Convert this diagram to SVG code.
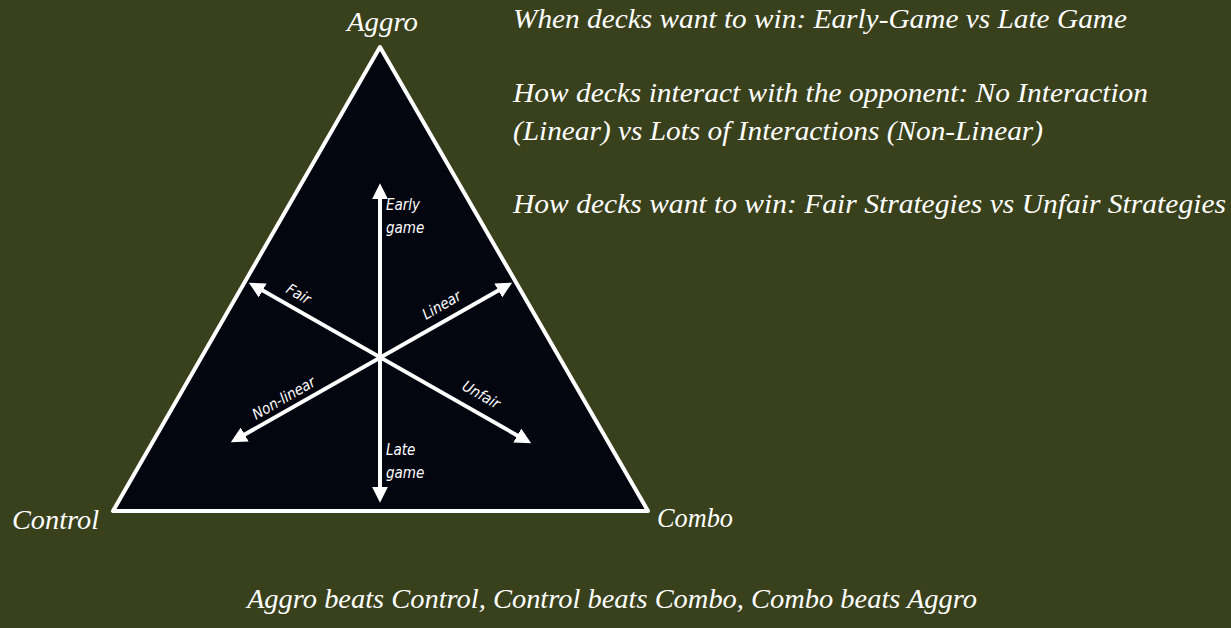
<svg xmlns="http://www.w3.org/2000/svg" width="1231" height="628" viewBox="0 0 1231 628">
<style>
.t{font-family:"Liberation Serif","Times New Roman","DejaVu Serif",serif;font-style:italic;fill:#fff;font-size:27px}
.c{font-size:28px}
.s{font-family:"DejaVu Sans Condensed","DejaVu Sans",sans-serif;font-style:italic;fill:#fff;font-size:15px}
.ax{stroke:#fff;stroke-width:4;fill:none}
</style>
<defs>
<marker id="ah" viewBox="0 0 10 10" refX="7" refY="5" markerWidth="4" markerHeight="4" orient="auto-start-reverse" markerUnits="strokeWidth">
<path d="M0,0 L10,5 L0,10 z" fill="#fff"/>
</marker>
</defs>
<rect width="1231" height="628" fill="#39401c"/>
<g id="triangle">
<polygon points="380,47 113,511 648,511" fill="#03050f" stroke="#fff" stroke-width="4" stroke-linejoin="round"/>
</g>
<g id="connectors">
<line class="ax" x1="380" y1="498" x2="380" y2="188" marker-start="url(#ah)" marker-end="url(#ah)"/>
<line class="ax" x1="253" y1="285" x2="527" y2="441" marker-start="url(#ah)" marker-end="url(#ah)"/>
<line class="ax" x1="235" y1="440" x2="508" y2="285" marker-start="url(#ah)" marker-end="url(#ah)"/>
</g>
<g id="aggro"><text class="t c" x="347" y="31" textLength="71" lengthAdjust="spacingAndGlyphs">Aggro</text></g>
<g id="control"><text class="t c" x="12" y="529" textLength="87" lengthAdjust="spacingAndGlyphs">Control</text></g>
<g id="combo"><text class="t c" x="657" y="527" textLength="76" lengthAdjust="spacingAndGlyphs">Combo</text></g>
<g id="axis-labels">
<text class="s" x="386" y="210">Early</text>
<text class="s" x="386" y="233">game</text>
<text class="s" x="386" y="455">Late</text>
<text class="s" x="386" y="478">game</text>
<text class="s" transform="translate(285,292) rotate(30)">Fair</text>
<text class="s" transform="translate(426,320) rotate(-30)">Linear</text>
<text class="s" transform="translate(256,420) rotate(-30)">Non-linear</text>
<text class="s" transform="translate(461,389) rotate(30)">Unfair</text>
</g>
<g id="legend">
<text class="t" x="513" y="28" textLength="614" lengthAdjust="spacingAndGlyphs">When decks want to win: Early-Game vs Late Game</text>
<text class="t" x="513" y="102" textLength="635" lengthAdjust="spacingAndGlyphs">How decks interact with the opponent: No Interaction</text>
<text class="t" x="513" y="140" textLength="530" lengthAdjust="spacingAndGlyphs">(Linear) vs Lots of Interactions (Non-Linear)</text>
<text class="t" x="513" y="213" textLength="713" lengthAdjust="spacingAndGlyphs">How decks want to win: Fair Strategies vs Unfair Strategies</text>
<text class="t" x="247" y="608" textLength="730" lengthAdjust="spacingAndGlyphs">Aggro beats Control, Control beats Combo, Combo beats Aggro</text>
</g>
</svg>
